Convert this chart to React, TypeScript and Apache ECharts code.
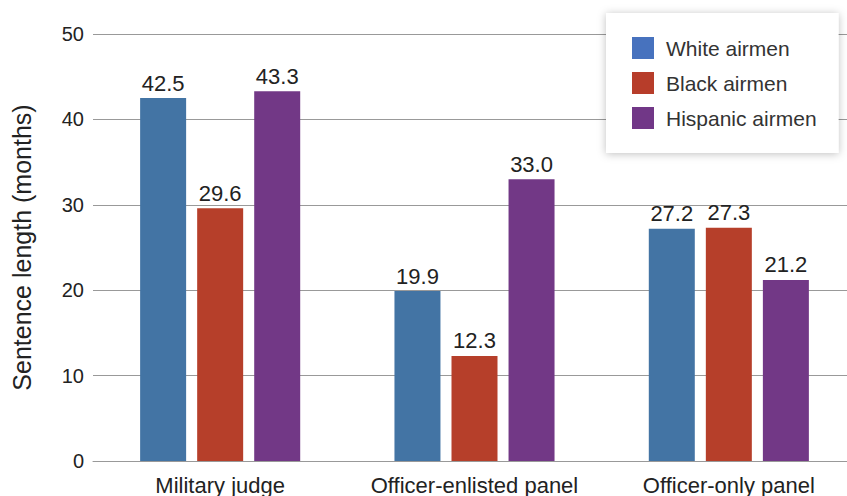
import React, { useEffect, useRef } from "react";
import * as echarts from "echarts";

const categories = ["Military judge", "Officer-enlisted panel", "Officer-only panel"];
const seriesNames = ["White airmen", "Black airmen", "Hispanic airmen"];
const whiteValues = [42.5, 19.9, 27.2];
const blackValues = [29.6, 12.3, 27.3];
const hispanicValues = [43.3, 33.0, 21.2];
const barColors = ["#4374A4", "#B63F2A", "#723886"];
const legendColors = ["#4772BE", "#B73D2A", "#713787"];

const FONT = "Helvetica, Arial, 'Liberation Sans', sans-serif";

export default function App() {
  const ref = useRef<HTMLDivElement>(null);
  useEffect(() => {
    if (!ref.current) return;
    const chart = echarts.init(ref.current, null, { renderer: "svg" });
    const values = [whiteValues, blackValues, hispanicValues];
    chart.setOption({
      animation: false,
      backgroundColor: "#ffffff",
      textStyle: { fontFamily: FONT },
      grid: { left: 93, right: 1, top: 34, bottom: 35, containLabel: false },
      legend: {
        left: 606,
        top: 13,
        orient: "vertical",
        padding: [24, 22, 24, 26],
        itemWidth: 22,
        itemHeight: 22,
        itemGap: 13,
        backgroundColor: "#ffffff",
        shadowColor: "rgba(0,0,0,0.25)",
        shadowBlur: 8,
        shadowOffsetX: 0,
        shadowOffsetY: 1,
        textStyle: { fontSize: 21, color: "#333333", fontFamily: FONT, padding: [0, 0, 0, 7] },
        data: seriesNames.map((n, i) => ({ name: n, icon: "rect", itemStyle: { color: legendColors[i] } })),
      },
      xAxis: {
        type: "category",
        data: categories,
        axisLine: { show: true, lineStyle: { color: "#999999", width: 1 } },
        axisTick: { show: false },
        axisLabel: { fontSize: 22, color: "#222222", margin: 13, fontFamily: FONT, interval: 0 },
      },
      yAxis: {
        type: "value",
        min: 0,
        max: 50,
        interval: 10,
        name: "Sentence length (months)",
        nameLocation: "middle",
        nameGap: 59,
        nameTextStyle: { fontSize: 25, color: "#222222", fontFamily: FONT },
        axisLine: { show: false },
        axisTick: { show: false },
        axisLabel: { fontSize: 20, color: "#222222", margin: 9, fontFamily: FONT },
        splitLine: { lineStyle: { color: "#999999", width: 1 } },
      },
      series: seriesNames.map((name, i) => ({
        name,
        type: "bar",
        data: values[i],
        barWidth: 46,
        barGap: "24%",
        itemStyle: { color: barColors[i] },
        label: {
          show: true,
          position: "top",
          distance: 4,
          fontSize: 22,
          color: "#222222",
          fontFamily: FONT,
          formatter: (p: any) => Number(p.value).toFixed(1),
        },
      })),
    });
    return () => chart.dispose();
  }, []);
  return (
    <div style={{ position: "fixed", left: 0, top: 0, width: 847, height: 496, overflow: "hidden" }}>
      <div ref={ref} style={{ width: 857, height: 496 }} />
    </div>
  );
}
